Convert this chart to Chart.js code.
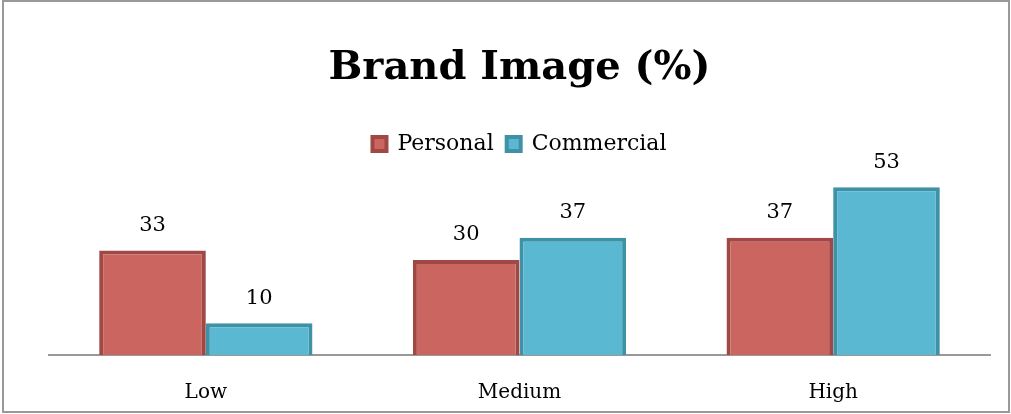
<!DOCTYPE html>
<html>
<head>
<meta charset="utf-8">
<script src="https://cdn.jsdelivr.net/npm/chart.js@4.4.0/dist/chart.umd.min.js"></script>
<style>
  html, body { margin: 0; padding: 0; background: #fff; overflow: hidden; }
  #wrap { width: 1011px; height: 424px; position: relative; }
</style>
</head>
<body>
<div id="wrap"><canvas id="brand"></canvas></div>
<script>
var categories = ["Low", "Medium", "High"];
var personal = [33, 30, 37];
var commercial = [10, 37, 53];

var serif = '"DejaVu Serif", serif';

// value labels above each bar
var valueLabels = {
    id: 'valueLabels',
    afterDatasetsDraw: function(chart) {
        var ctx = chart.ctx;
        ctx.save();
        ctx.font = '21px ' + serif;
        ctx.fillStyle = '#000';
        ctx.textAlign = 'center';
        ctx.textBaseline = 'middle';
        chart.data.datasets.forEach(function(ds, i) {
            chart.getDatasetMeta(i).data.forEach(function(bar, j) {
                ctx.fillText(ds.data[j], bar.x, bar.y - 25);
            });
        });
        ctx.restore();
    }
};

// thin grey frame round the visible 1011x414 area
var frame = {
    id: 'frame',
    afterDraw: function(chart) {
        var ctx = chart.ctx;
        ctx.save();
        ctx.strokeStyle = '#999';
        ctx.lineWidth = 2;
        ctx.strokeRect(3, 1, 1006, 411);
        ctx.restore();
    }
};

var ctx = document.getElementById('brand').getContext('2d');
var chart = new Chart(ctx, {
    type: 'bar',
    data: {
        labels: categories,
        datasets: [{
            label: 'Personal',
            data: personal,
            backgroundColor: '#cb6560',
            borderColor: '#a04846',
            borderWidth: 4
        }, {
            label: 'Commercial',
            data: commercial,
            backgroundColor: '#5bb8d3',
            borderColor: '#3f92a5',
            borderWidth: 4
        }]
    },
    options: {
        responsive: true,
        maintainAspectRatio: false,
        animation: false,
        layout: { padding: { top: 20, left: 49, right: 21, bottom: 1 } },
        datasets: {
            bar: { categoryPercentage: 0.68, barPercentage: 1.0 }
        },
        plugins: {
            title: {
                display: true,
                text: 'Brand Image (%)',
                color: '#000',
                font: { family: serif, size: 40, weight: 'bold' },
                padding: { top: 25, bottom: 27 }
            },
            legend: {
                position: 'top',
                labels: {
                    color: '#000',
                    font: { family: serif, size: 22 },
                    boxWidth: 14,
                    boxHeight: 14,
                    padding: 13
                }
            },
            tooltip: { enabled: false }
        },
        scales: {
            x: {
                grid: { display: false },
                border: { display: true, color: '#999', width: 2 },
                ticks: { color: '#000', font: { family: serif, size: 20 }, padding: 18 }
            },
            y: {
                display: false,
                min: 0,
                max: 60
            }
        }
    },
    plugins: [valueLabels, frame]
});
</script>
</body>
</html>
